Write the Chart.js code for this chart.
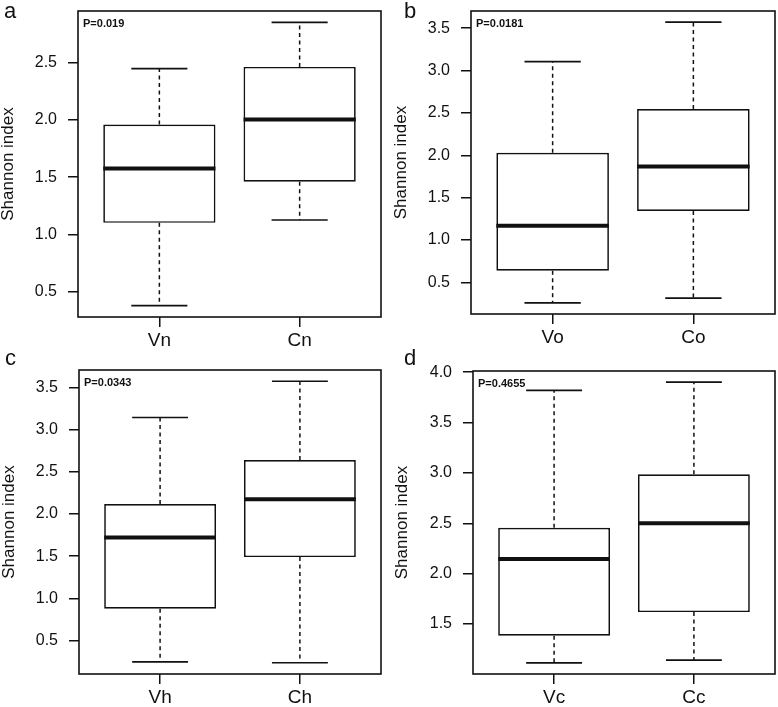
<!DOCTYPE html>
<html>
<head>
  <meta charset="utf-8" />
  <title>Shannon index boxplots</title>
  <script src="https://cdn.jsdelivr.net/npm/chart.js"></script>
  <style>
    body {
      background: white;
      margin: 0;
    }
    #wrap {
      position: relative;
      width: 778px;
      height: 707px;
    }
    canvas {
      position: absolute;
    }
  </style>
</head>
<body>

  <div id="wrap">
    <canvas id="panelA" width="389" height="352" style="left:0;top:0"></canvas>
    <canvas id="panelB" width="389" height="352" style="left:389px;top:0"></canvas>
    <canvas id="panelC" width="389" height="367" style="left:0;top:340px"></canvas>
    <canvas id="panelD" width="389" height="367" style="left:389px;top:340px"></canvas>
  </div>

  <script>
    // panel a
    const groupsA = ['Vn', 'Cn'];
    const lowA = [0.375, 1.125];
    const q1A = [1.10, 1.46];
    const medA = [1.575, 2.005];
    const q3A = [1.96, 2.465];
    const highA = [2.45, 2.855];
    const ticksA = [0.5, 1.0, 1.5, 2.0, 2.5];

    // panel b
    const groupsB = ['Vo', 'Co'];
    const lowB = [0.26, 0.315];
    const q1B = [0.638, 1.343];
    const medB = [1.17, 1.867];
    const q3B = [2.03, 2.547];
    const highB = [3.106, 3.57];
    const ticksB = [0.5, 1.0, 1.5, 2.0, 2.5, 3.0, 3.5];

    // panel c
    const groupsC = ['Vh', 'Ch'];
    const lowC = [0.248, 0.237];
    const q1C = [0.877, 1.488];
    const medC = [1.72, 2.174];
    const q3C = [2.118, 2.637];
    const highC = [3.142, 3.571];
    const ticksC = [0.5, 1.0, 1.5, 2.0, 2.5, 3.0, 3.5];

    // panel d
    const groupsD = ['Vc', 'Cc'];
    const lowD = [1.116, 1.143];
    const q1D = [1.384, 1.619];
    const medD = [2.146, 2.50];
    const q3D = [2.456, 2.987];
    const highD = [3.82, 3.90];
    const ticksD = [1.5, 2.0, 2.5, 3.0, 3.5, 4.0];

    const pValues = ['P=0.019', 'P=0.0181', 'P=0.0343', 'P=0.4655'];
    const panelLetters = ['a', 'b', 'c', 'd'];

    const INK = '#111';
    const FONT = "'Liberation Sans', Arial, sans-serif";

    function drawPanel(canvasId, idx, groups, low, q1, med, q3, high, yTicks, lay) {
      // R style y range: data range plus 4% each side
      const span = Math.max(...high) - Math.min(...low);
      const yMin = Math.min(...low) - span * 0.04;
      const yMax = Math.max(...high) + span * 0.04;

      // whiskers, staples, medians, frame and labels on top of the floating bars
      const boxExtras = {
        id: 'boxExtras' + idx,
        afterDatasetsDraw(chart) {
          const { ctx, chartArea } = chart;
          const y = chart.scales.y;
          const bars = chart.getDatasetMeta(0).data;
          ctx.save();
          ctx.strokeStyle = INK;
          bars.forEach((bar, i) => {
            const half = bar.width / 2;
            const yHi = y.getPixelForValue(high[i]);
            const yLo = y.getPixelForValue(low[i]);
            const yQ3 = y.getPixelForValue(q3[i]);
            const yQ1 = y.getPixelForValue(q1[i]);
            const yMed = y.getPixelForValue(med[i]);
            ctx.lineWidth = 1.5;
            ctx.setLineDash([4, 3.5]);
            ctx.beginPath();
            ctx.moveTo(bar.x, yQ3); ctx.lineTo(bar.x, yHi);
            ctx.moveTo(bar.x, yQ1); ctx.lineTo(bar.x, yLo);
            ctx.stroke();
            ctx.setLineDash([]);
            ctx.lineWidth = 1.7;
            ctx.beginPath();
            ctx.moveTo(bar.x - half / 2, yHi); ctx.lineTo(bar.x + half / 2, yHi);
            ctx.moveTo(bar.x - half / 2, yLo); ctx.lineTo(bar.x + half / 2, yLo);
            ctx.stroke();
            ctx.lineWidth = 4;
            ctx.beginPath();
            ctx.moveTo(bar.x - half, yMed); ctx.lineTo(bar.x + half, yMed);
            ctx.stroke();
          });
          ctx.lineWidth = 1.6;
          ctx.strokeRect(chartArea.left, chartArea.top,
            chartArea.right - chartArea.left, chartArea.bottom - chartArea.top);
          ctx.fillStyle = INK;
          ctx.textAlign = 'left';
          ctx.textBaseline = 'alphabetic';
          ctx.font = 'bold 11px ' + FONT;
          ctx.fillText(pValues[idx], chartArea.left + 5, chartArea.top + 16);
          ctx.font = '22px ' + FONT;
          ctx.fillText(panelLetters[idx], lay.letterX, lay.letterY);
          ctx.restore();
        }
      };

      new Chart(document.getElementById(canvasId), {
        type: 'bar',
        data: {
          datasets: [{
            data: groups.map((g, i) => ({ x: i + 1, y: [q1[i], q3[i]] })),
            backgroundColor: 'white',
            borderColor: INK,
            borderWidth: 1.7,
            borderSkipped: false,
            barPercentage: 0.8,
            categoryPercentage: 1
          }]
        },
        options: {
          responsive: false,
          animation: false,
          layout: {
            padding: { left: lay.left, right: lay.right, top: lay.top, bottom: 0 }
          },
          plugins: {
            legend: { display: false },
            tooltip: { enabled: false }
          },
          scales: {
            x: {
              type: 'linear',
              min: 0.42,
              max: 2.58,
              offset: false,
              afterBuildTicks: (scale) => {
                scale.ticks = groups.map((g, i) => ({ value: i + 1 }));
              },
              afterFit: (scale) => {
                scale.height = lay.bottom;
                scale.paddingLeft = 0;
                scale.paddingRight = 0;
              },
              ticks: {
                color: INK,
                font: { family: FONT, size: 19 },
                padding: 2,
                maxRotation: 0,
                autoSkip: false,
                callback: (v) => groups[Math.round(v) - 1]
              },
              grid: {
                offset: false,
                drawOnChartArea: false,
                tickLength: 10,
                color: INK,
                lineWidth: 1.5
              },
              border: { display: false }
            },
            y: {
              min: yMin,
              max: yMax,
              afterBuildTicks: (scale) => {
                scale.ticks = yTicks.map(v => ({ value: v }));
              },
              afterFit: (scale) => {
                scale.width = lay.axisW;
                scale.paddingTop = 0;
                scale.paddingBottom = 0;
              },
              ticks: {
                color: INK,
                font: { family: FONT, size: 16 },
                padding: 11,
                callback: (v) => v.toFixed(1)
              },
              grid: {
                drawOnChartArea: false,
                tickLength: 10,
                color: INK,
                lineWidth: 1.5
              },
              border: { display: false },
              title: {
                display: true,
                text: 'Shannon index',
                color: INK,
                font: { family: FONT, size: 17, lineHeight: 1 },
                padding: { top: 0, bottom: 0 }
              }
            }
          }
        },
        plugins: [boxExtras]
      });
    }

    drawPanel('panelA', 0, groupsA, lowA, q1A, medA, q3A, highA, ticksA,
      { left: 0, axisW: 78, right: 8, top: 11, bottom: 35, letterX: 4, letterY: 18 });
    drawPanel('panelB', 1, groupsB, lowB, q1B, medB, q3B, highB, ticksB,
      { left: 4, axisW: 78, right: 3, top: 11, bottom: 38, letterX: 15, letterY: 18 });
    drawPanel('panelC', 2, groupsC, lowC, q1C, medC, q3C, highC, ticksC,
      { left: 1, axisW: 78, right: 8, top: 30, bottom: 33, letterX: 5, letterY: 25 });
    drawPanel('panelD', 3, groupsD, lowD, q1D, medD, q3D, highD, ticksD,
      { left: 5, axisW: 79, right: 3, top: 31, bottom: 33, letterX: 15, letterY: 25 });
  </script>

</body>
</html>
